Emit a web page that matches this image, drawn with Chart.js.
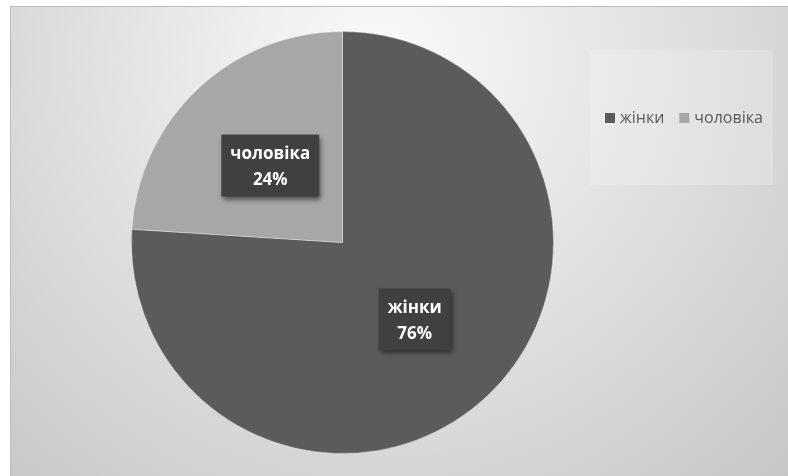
<!DOCTYPE html>
<html>
<head>
<meta charset="utf-8">
<script src="https://cdn.jsdelivr.net/npm/chart.js@4"></script>
<style>
  html, body { margin: 0; padding: 0; background: #fff; }
  #wrap { width: 788px; height: 476px; position: relative; }
</style>
</head>
<body>
<div id="wrap"><canvas id="pieChart" width="788" height="476"></canvas></div>
<script>
// data
const categories = ['жінки', 'чоловіка'];
const shares = [76, 24];
const sliceColors = ['#5b5b5b', '#a7a7a7'];

// background panel + legend box behind the chart
const backdrop = {
    id: 'backdrop',
    beforeDraw(chart) {
        const ctx = chart.ctx;
        ctx.save();
        ctx.fillStyle = '#ffffff';
        ctx.fillRect(0, 0, chart.width, chart.height);
        const g = ctx.createRadialGradient(380, 60, 20, 380, 60, 620);
        g.addColorStop(0, '#f8f8f8');
        g.addColorStop(1, '#c3c3c3');
        ctx.fillStyle = g;
        ctx.fillRect(10, 6, 778, 470);
        ctx.strokeStyle = '#bdbdbd';
        ctx.lineWidth = 1;
        ctx.strokeRect(10.5, 6.5, 778, 470);
        // faint legend panel
        ctx.fillStyle = 'rgba(255,255,255,0.2)';
        ctx.fillRect(590, 50, 183, 135);
        ctx.restore();
    }
};

// legend + data labels
const overlay = {
    id: 'overlay',
    afterDraw(chart) {
        const ctx = chart.ctx;
        const meta = chart.getDatasetMeta(0);
        ctx.save();
        // legend
        ctx.font = '16px "Open Sans", sans-serif';
        ctx.textBaseline = 'middle';
        let x = 605;
        const y = 118;
        chart.data.labels.forEach((lab, i) => {
            ctx.fillStyle = sliceColors[i];
            ctx.fillRect(x, y - 5, 10, 10);
            x += 15;
            ctx.fillStyle = '#595959';
            ctx.fillText(lab, x, y);
            x += ctx.measureText(lab).width + 15;
        });
        // data labels
        ctx.font = 'bold 17px "Open Sans", sans-serif';
        ctx.textAlign = 'center';
        meta.data.forEach((arc, i) => {
            const p = arc.tooltipPosition();
            const l1 = chart.data.labels[i];
            const l2 = shares[i] + '%';
            const w = Math.max(ctx.measureText(l1).width, ctx.measureText(l2).width) + 18;
            const h = 62;
            ctx.save();
            ctx.shadowColor = 'rgba(0,0,0,0.55)';
            ctx.shadowBlur = 5;
            ctx.shadowOffsetX = 2;
            ctx.shadowOffsetY = 3;
            ctx.fillStyle = '#404040';
            ctx.fillRect(p.x - w / 2, p.y - h / 2, w, h);
            ctx.restore();
            ctx.fillStyle = '#ffffff';
            ctx.fillText(l1, p.x, p.y - 11);
            ctx.fillText(l2, p.x, p.y + 15);
        });
        ctx.restore();
    }
};

new Chart(document.getElementById('pieChart').getContext('2d'), {
    type: 'pie',
    data: {
        labels: categories,
        datasets: [{
            data: shares,
            backgroundColor: sliceColors,
            borderColor: 'rgba(255,255,255,0.35)',
            borderWidth: 1
        }]
    },
    options: {
        responsive: false,
        animation: false,
        layout: { padding: { left: 131, right: 234, top: 31, bottom: 22 } },
        plugins: {
            legend: { display: false },
            tooltip: { enabled: false }
        }
    },
    plugins: [backdrop, overlay]
});
</script>
</body>
</html>
